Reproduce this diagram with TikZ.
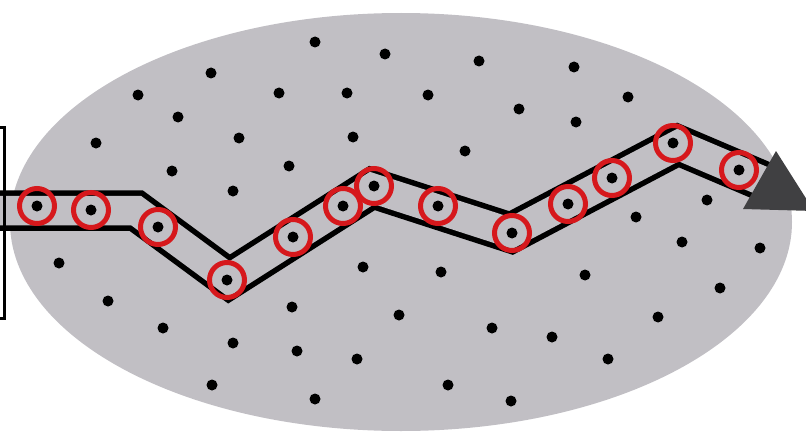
\documentclass[tikz,border=0pt]{standalone}
\usepackage{xcolor}
\usepackage{tikz}
\usetikzlibrary{shapes.geometric, positioning}
\definecolor{fieldgray}{RGB}{193,191,196}
\definecolor{ringred}{RGB}{214,24,28}
\definecolor{headgray}{RGB}{64,64,66}

\begin{document}
\begin{tikzpicture}[
    x=1pt, y=-1pt,
    field/.style={ellipse, fill=fieldgray, minimum width=782pt, minimum height=418pt, inner sep=0pt},
    dot/.style={circle, fill=black, minimum size=11pt, inner sep=0pt},
    hit/.style={circle, draw=ringred, line width=5pt, minimum size=35pt, inner sep=0pt,
        path picture={\fill[black] (path picture bounding box.center) circle (5.5pt);}},
    band/.style={line width=5.5pt, double=fieldgray, double distance=29.5pt},
    head/.style={fill=headgray},
    wall/.style={draw=black, line width=3pt},
]
\clip (0,0) rectangle (806,436);
\node[field] (area) at (401,222) {};

% corridor
\coordinate (start) at (-5,210.5);
\coordinate (b1) at (136,210.5);
\coordinate (b2) at (229,279);
\coordinate (b3) at (372,188);
\coordinate (b4) at (511,233);
\coordinate (b5) at (678,145);
\coordinate (stop) at (765,182);
\draw[band] (start) -- (b1) -- (b2) -- (b3) -- (b4) -- (b5) -- (stop);

% scattered points
\node[dot] (d1) at (315,42) {};
\node[dot] (d2) at (385,54) {};
\node[dot] (d3) at (479,61) {};
\node[dot] (d4) at (574,67) {};
\node[dot] (d5) at (211,73) {};
\node[dot] (d6) at (138,95) {};
\node[dot] (d7) at (279,93) {};
\node[dot] (d8) at (347,93) {};
\node[dot] (d9) at (428,95) {};
\node[dot] (d10) at (519,109) {};
\node[dot] (d11) at (628,97) {};
\node[dot] (d12) at (178,117) {};
\node[dot] (d13) at (239,138) {};
\node[dot] (d14) at (96,143) {};
\node[dot] (d15) at (353,137) {};
\node[dot] (d16) at (465,151) {};
\node[dot] (d17) at (576,122) {};
\node[dot] (d18) at (172,171) {};
\node[dot] (d19) at (233,191) {};
\node[dot] (d20) at (289,166) {};
\node[dot] (d21) at (59,263) {};
\node[dot] (d22) at (108,301) {};
\node[dot] (d23) at (163,328) {};
\node[dot] (d24) at (233,343) {};
\node[dot] (d25) at (212,385) {};
\node[dot] (d26) at (292,307) {};
\node[dot] (d27) at (297,351) {};
\node[dot] (d28) at (363,267) {};
\node[dot] (d29) at (441,272) {};
\node[dot] (d30) at (585,275) {};
\node[dot] (d31) at (707,200) {};
\node[dot] (d32) at (636,217) {};
\node[dot] (d33) at (682,242) {};
\node[dot] (d34) at (760,248) {};
\node[dot] (d35) at (720,288) {};
\node[dot] (d36) at (658,317) {};
\node[dot] (d37) at (608,359) {};
\node[dot] (d38) at (399,315) {};
\node[dot] (d39) at (492,328) {};
\node[dot] (d40) at (552,337) {};
\node[dot] (d41) at (357,359) {};
\node[dot] (d42) at (448,385) {};
\node[dot] (d43) at (315,399) {};
\node[dot] (d44) at (511,401) {};

% points on the corridor
\node[hit] (h1) at (37,206) {};
\node[hit] (h2) at (91,210) {};
\node[hit] (h3) at (158,227) {};
\node[hit] (h4) at (227,280) {};
\node[hit] (h5) at (293,237) {};
\node[hit] (h6) at (343,206) {};
\node[hit] (h7) at (374,186) {};
\node[hit] (h8) at (438,206) {};
\node[hit] (h9) at (512,233) {};
\node[hit] (h10) at (568,204) {};
\node[hit] (h11) at (612,178) {};
\node[hit] (h12) at (673,143) {};
\node[hit] (h13) at (739,170) {};

% arrow head and left wall
\coordinate (a1) at (776,151);
\coordinate (a2) at (814,211);
\coordinate (a3) at (743,209);
\fill[head] (a1) -- (a2) -- (a3) -- cycle;
\coordinate (w1) at (0,127);
\coordinate (w2) at (4,318);
\draw[wall] (w1) -| (w2) -- ++(-5,0);
\end{tikzpicture}
\end{document}
